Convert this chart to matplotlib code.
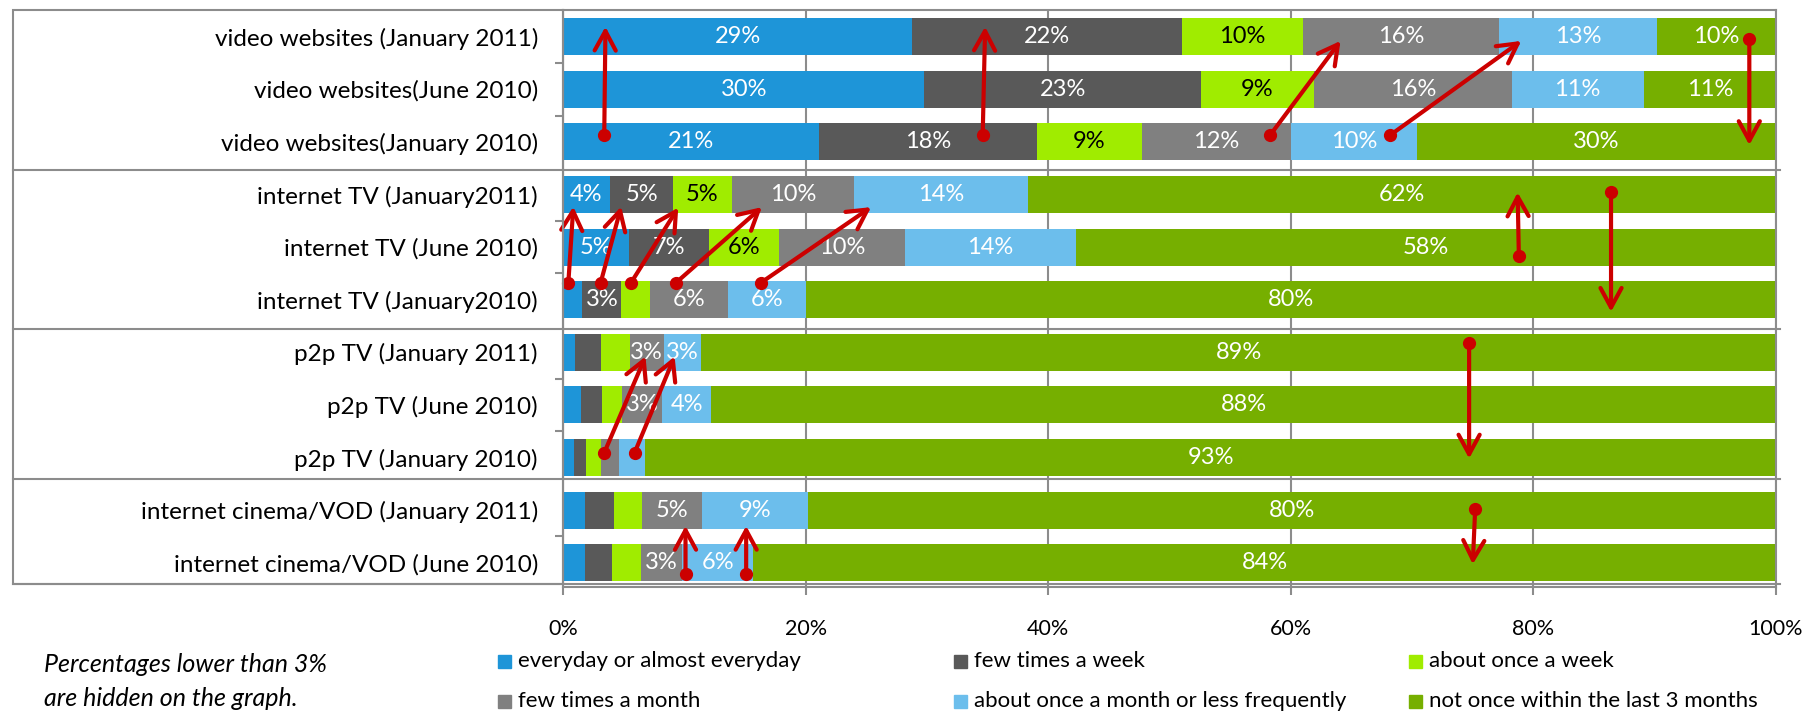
import matplotlib
matplotlib.use('Agg')
import matplotlib.pyplot as plt
from matplotlib.patches import Rectangle
from matplotlib.lines import Line2D
import numpy as np

plt.rcParams['font.family'] = ['Lato', 'DejaVu Sans']

categories = [
    "video websites (January 2011)",
    "video websites(June 2010)",
    "video websites(January 2010)",
    "internet TV (January2011)",
    "internet TV (June 2010)",
    "internet TV (January2010)",
    "p2p TV (January 2011)",
    "p2p TV (June 2010)",
    "p2p TV (January 2010)",
    "internet cinema/VOD (January 2011)",
    "internet cinema/VOD (June 2010)",
]

series_names = [
    "everyday or almost everyday",
    "few times a week",
    "about once a week",
    "few times a month",
    "about once a month or less frequently",
    "not once within the last 3 months",
]

everyday     = [28.8, 29.8, 21.1, 3.85, 5.4, 1.6, 1.0, 1.5, 0.9, 1.8, 1.8]
few_week     = [22.2, 22.8, 18.0, 5.25, 6.6, 3.2, 2.1, 1.7, 1.0, 2.4, 2.2]
once_week    = [10.0, 9.3, 8.6, 4.8, 5.8, 2.4, 2.4, 1.7, 1.2, 2.3, 2.4]
few_month    = [16.2, 16.3, 12.3, 10.1, 10.4, 6.4, 2.8, 3.3, 1.5, 5.0, 3.4]
once_month   = [13.0, 10.9, 10.4, 14.3, 14.1, 6.4, 3.1, 4.0, 2.2, 8.7, 5.9]
not_once     = [9.8, 10.9, 29.6, 61.7, 57.7, 80.0, 88.6, 87.8, 93.2, 79.8, 84.3]

series = [everyday, few_week, once_week, few_month, once_month, not_once]
colors = ['#1E95D8', '#595959', '#A0EC00', '#808080', '#6CBEEC', '#76AF00']
label_colors = ['white', 'white', 'black', 'white', 'white', 'white']

x_ticks = [0, 20, 40, 60, 80, 100]
x_tick_labels = ["0%", "20%", "40%", "60%", "80%", "100%"]

# arrows: (x_start %, row_start, x_end %, row_end)
arrows = [
    (3.4, 1.87, 3.5, -0.19),
    (34.6, 1.87, 34.8, -0.19),
    (58.3, 1.87, 64.1, 0.08),
    (68.2, 1.87, 79.0, 0.08),
    (97.8, 0.05, 97.8, 2.06),
    (0.44, 4.68, 0.85, 3.23),
    (3.1, 4.68, 4.8, 3.23),
    (5.6, 4.68, 9.5, 3.25),
    (9.3, 4.68, 16.4, 3.24),
    (16.3, 4.68, 25.4, 3.24),
    (78.8, 4.17, 78.7, 2.96),
    (86.4, 2.95, 86.4, 5.23),
    (3.4, 7.91, 6.8, 6.08),
    (5.9, 7.91, 9.2, 6.08),
    (74.7, 5.82, 74.7, 8.02),
    (10.1, 10.22, 10.1, 9.30),
    (15.1, 10.22, 15.1, 9.30),
    (75.2, 8.98, 75.0, 10.03),
]

note_lines = ["Percentages lower than 3%", "are hidden on the graph."]

W, H = 1808, 713
GRAY = '#8c8c8c'
RED = '#CC0000'

fig = plt.figure(figsize=(W / 100, H / 100), dpi=100)
ax = fig.add_axes([563 / W, 1 - 587 / H, (1776 - 563) / W, (587 - 10) / H])

y = np.arange(len(categories))
left = np.zeros(len(categories))
for vals, col, lc in zip(series, colors, label_colors):
    vals = np.array(vals)
    ax.barh(y, vals, left=left, height=0.70, color=col, edgecolor='none', zorder=2)
    for yi, (l, v) in enumerate(zip(left, vals)):
        if round(v) >= 3:
            ax.text(l + v / 2, yi, f"{round(v)}%", ha='center', va='center',
                    color=lc, fontsize=17, zorder=3)
    left = left + vals

ax.set_xlim(0, 100)
ax.set_ylim((587 - 36.7) / 52.6, (10 - 36.7) / 52.6)

ax.set_xticks(x_ticks)
ax.set_xticklabels(x_tick_labels, fontsize=15.5)
ax.tick_params(axis='x', length=6, width=1.5, color=GRAY, pad=17)
ax.xaxis.grid(True, color=GRAY, lw=1.5, zorder=0)
ax.set_axisbelow(True)

ax.set_yticks(y)
ax.set_yticklabels(categories, fontsize=17.5)
ax.tick_params(axis='y', which='major', length=0, pad=18)
ax.set_yticks([0.5, 1.5, 3.5, 4.5, 6.5, 7.5, 9.5], minor=True)
ax.tick_params(axis='y', which='minor', length=6, width=1.5, color=GRAY)

for sp in ax.spines.values():
    sp.set_color(GRAY)
    sp.set_linewidth(1.5)

# label box and group separators
fig.patches.append(Rectangle((12.6 / W, 1 - 584 / H), (563 - 12.6) / W, (584 - 10) / H,
                             transform=fig.transFigure, fill=False, edgecolor=GRAY, lw=1.5))
for yp in [170, 329.5, 479.3, 584.3]:
    fig.lines.append(Line2D([12.6 / W, 1780 / W], [1 - yp / H, 1 - yp / H],
                            transform=fig.transFigure, color=GRAY, lw=1.5))

# arrows
for xs, ys, xe, ye in arrows:
    ax.annotate('', xy=(xe, ye), xytext=(xs, ys),
                arrowprops=dict(arrowstyle='->,head_length=0.7,head_width=0.38',
                                color=RED, lw=3, shrinkA=0, shrinkB=0,
                                mutation_scale=20), zorder=5)
    ax.plot([xs], [ys], 'o', color=RED, markersize=8.5, zorder=6, clip_on=False)

# legend (manual placement)
leg_x = [498, 954, 1409]
leg_y = [661, 701]
for i, (name, col) in enumerate(zip(series_names, colors)):
    r, c = divmod(i, 3)
    xp, yp = leg_x[c], leg_y[r]
    fig.patches.append(Rectangle((xp / W, 1 - (yp + 7) / H), 13 / W, 13 / H,
                                 transform=fig.transFigure, color=col))
    fig.text((xp + 20) / W, 1 - yp / H, name, ha='left', va='center', fontsize=16)

for i, line in enumerate(note_lines):
    fig.text(44 / W, 1 - (664 + 34 * i) / H, line, ha='left', va='center',
             fontsize=18, style='italic')

fig.savefig('out.png', dpi=100)
